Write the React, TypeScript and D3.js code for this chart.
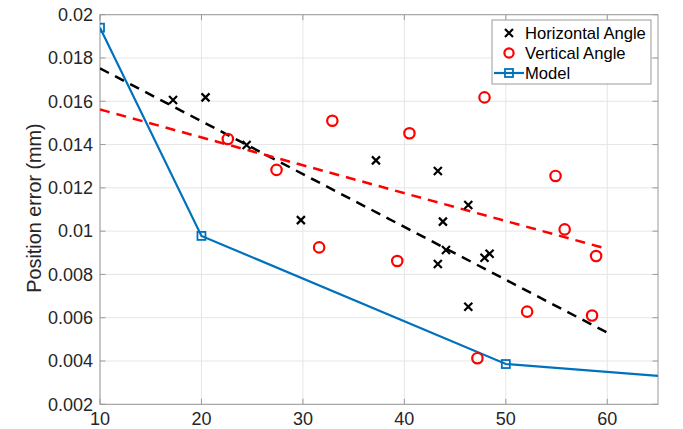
import React from "react";
import * as d3 from "d3";

const xTicks = [10, 20, 30, 40, 50, 60];
const yTicks = [0.002, 0.004, 0.006, 0.008, 0.01, 0.012, 0.014, 0.016, 0.018, 0.02];
const yTickLabels = ["0.002", "0.004", "0.006", "0.008", "0.01", "0.012", "0.014", "0.016", "0.018", "0.02"];

const horizX = [17.2, 20.4, 24.45, 29.8, 37.2, 43.3, 43.3, 43.8, 44.1, 46.3, 46.3, 47.9, 48.4];
const horizY = [0.01606, 0.01618, 0.01398, 0.01051, 0.01327, 0.01278, 0.00848, 0.01044, 0.00913, 0.01121, 0.00651, 0.00877, 0.00896];

const vertX = [22.6, 27.4, 31.6, 32.9, 39.3, 40.5, 47.2, 47.9, 52.1, 54.9, 55.8, 58.5, 58.9];
const vertY = [0.01426, 0.01283, 0.00925, 0.0151, 0.00862, 0.01452, 0.00413, 0.01618, 0.00628, 0.01255, 0.01008, 0.0061, 0.00885];

const fitX = [10, 60];
const fitHoriz = [0.01752, 0.00531];
const fitVert = [0.01562, 0.00918];

const modelX = [10, 20, 50, 80];
const modelY = [0.0194, 0.00978, 0.00386, 0.00277];

const legendLabels = ["Horizontal Angle", "Vertical Angle", "Model"];

const W = 683, H = 429;
const L = 100, R = 658, T = 14.7, B = 404.3;
const FONT = "'Liberation Sans', Arial, Helvetica, sans-serif";
const BLUE = "#0072BD";

export default function App() {
  const x = d3.scaleLinear().domain([10, 65]).range([L, R]);
  const y = d3.scaleLinear().domain([0.002, 0.02]).range([B, T]);
  const line = d3.line<[number, number]>().x(d => x(d[0])).y(d => y(d[1]));
  const fitH: [number, number][] = fitX.map((v, i) => [v, fitHoriz[i]]);
  const fitV: [number, number][] = fitX.map((v, i) => [v, fitVert[i]]);
  const model: [number, number][] = modelX.map((v, i) => [v, modelY[i]]);
  const tl = 5.5;

  const cross = (cx: number, cy: number, k: string) => (
    <path key={k} d={`M${cx - 4},${cy - 4}L${cx + 4},${cy + 4}M${cx - 4},${cy + 4}L${cx + 4},${cy - 4}`} stroke="#000" strokeWidth={2.2} fill="none" />
  );

  return (
    <svg width={W} height={H} style={{ position: "absolute", left: 0, top: 0, background: "#fff" }} fontFamily={FONT}>
      <defs>
        <clipPath id="plotclip">
          <rect x={L} y={T} width={R - L} height={B - T} />
        </clipPath>
      </defs>
      <rect x={0} y={0} width={W} height={H} fill="#fff" />
      {/* grid */}
      {xTicks.map(t => (
        <line key={"gx" + t} x1={x(t)} x2={x(t)} y1={T} y2={B} stroke="#e6e6e6" strokeWidth={1} />
      ))}
      {yTicks.map(t => (
        <line key={"gy" + t} x1={L} x2={R} y1={y(t)} y2={y(t)} stroke="#e6e6e6" strokeWidth={1} />
      ))}
      {/* box */}
      <rect x={L} y={T} width={R - L} height={B - T} fill="none" stroke="#9a9a9a" strokeWidth={1} />
      {/* ticks */}
      {xTicks.map(t => (
        <g key={"tx" + t}>
          <line x1={x(t)} x2={x(t)} y1={B} y2={B - tl} stroke="#9a9a9a" />
          <line x1={x(t)} x2={x(t)} y1={T} y2={T + tl} stroke="#9a9a9a" />
          <text x={x(t)} y={B + 20.4} textAnchor="middle" fontSize={18} fill="#262626">{t}</text>
        </g>
      ))}
      {yTicks.map((t, i) => (
        <g key={"ty" + t}>
          <line x1={L} x2={L + tl} y1={y(t)} y2={y(t)} stroke="#9a9a9a" />
          <line x1={R} x2={R - tl} y1={y(t)} y2={y(t)} stroke="#9a9a9a" />
          <text x={L - 7} y={y(t)} dy="0.35em" textAnchor="end" fontSize={18} fill="#262626">{yTickLabels[i]}</text>
        </g>
      ))}
      <text transform={`translate(41,208) rotate(-90)`} textAnchor="middle" fontSize={19.8} fill="#262626">Position error (mm)</text>

      <g clipPath="url(#plotclip)">
        <path d={line(fitH) || ""} stroke="#000" strokeWidth={2.5} strokeDasharray="10 7" fill="none" />
        <path d={line(fitV) || ""} stroke="#ff0000" strokeWidth={2.5} strokeDasharray="10 7" fill="none" />
        <path d={line(model) || ""} stroke={BLUE} strokeWidth={2.2} fill="none" />
        {modelX.map((v, i) => (
          <rect key={"m" + i} x={x(v) - 4} y={y(modelY[i]) - 4} width={8} height={8} fill="none" stroke={BLUE} strokeWidth={1.8} />
        ))}
        {horizX.map((v, i) => cross(x(v), y(horizY[i]), "h" + i))}
        {vertX.map((v, i) => (
          <circle key={"v" + i} cx={x(v)} cy={y(vertY[i])} r={5.2} fill="none" stroke="#ff0000" strokeWidth={2.2} />
        ))}
      </g>

      {/* legend */}
      <g>
        <rect x={492} y={20} width={159} height={64} fill="#fff" stroke="#9a9a9a" strokeWidth={1} />
        {cross(509, 33, "lg0")}
        <circle cx={509} cy={53} r={4.6} fill="none" stroke="#ff0000" strokeWidth={2.2} />
        <line x1={494} x2={524} y1={73} y2={73} stroke={BLUE} strokeWidth={2.2} />
        <rect x={505} y={69} width={8} height={8} fill="none" stroke={BLUE} strokeWidth={1.8} />
        {legendLabels.map((s, i) => (
          <text key={s} x={525} y={33 + i * 20} dy="0.35em" fontSize={16.6} fill="#000">{s}</text>
        ))}
      </g>
    </svg>
  );
}
